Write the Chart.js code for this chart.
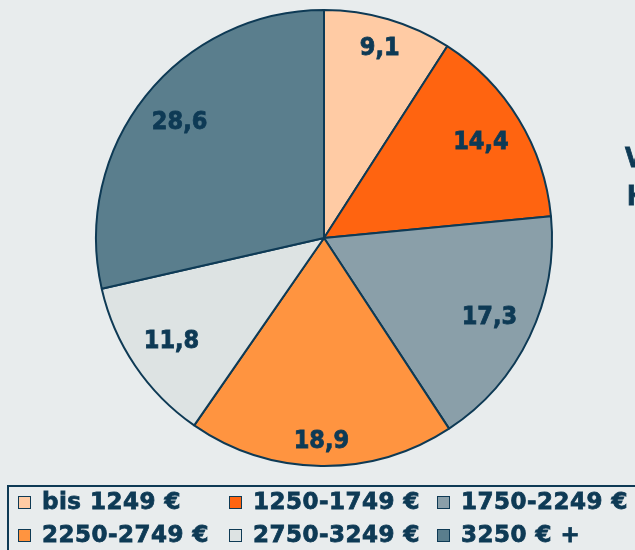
<!DOCTYPE html>
<html>
<head>
<meta charset="utf-8">
<style>
  html, body { margin: 0; padding: 0; background: #e8eced; }
  #wrap { width: 635px; height: 550px; }
</style>
<script src="https://cdn.jsdelivr.net/npm/chart.js"></script>
</head>
<body>
<div id="wrap"><canvas id="incomeChart" width="635" height="550"></canvas></div>
<script>
const incomeClasses = ['bis 1249 €', '1250-1749 €', '1750-2249 €', '2250-2749 €', '2750-3249 €', '3250 € +'];
const shares = [9.1, 14.4, 17.3, 18.9, 11.8, 28.6];
const sliceColors = ['#ffcba4', '#ff6410', '#8a9fa9', '#ff9440', '#dde3e3', '#5a7e8d'];
const titleLines = ['V', 'H'];

const ink = '#0e3a55';
const labelFont = "bold 25px 'DejaVu Sans Condensed', 'DejaVu Sans', sans-serif";
const legendFont = "bold 23px 'DejaVu Sans', sans-serif";

// heavy text: fill plus a thin stroke in the same colour
function heavyText(ctx, txt, x, y) {
  ctx.fillText(txt, x, y);
  ctx.strokeText(txt, x, y);
}

// value labels inside slices, pushed out until the text box nearly touches the rim
const sliceLabels = {
  id: 'sliceLabels',
  afterDatasetsDraw(chart) {
    const ctx = chart.ctx;
    const meta = chart.getDatasetMeta(0);
    ctx.save();
    ctx.font = labelFont;
    ctx.fillStyle = ink;
    ctx.strokeStyle = ink;
    ctx.lineWidth = 0.8;
    ctx.textAlign = 'center';
    ctx.textBaseline = 'middle';
    meta.data.forEach((arc, i) => {
      const p = arc.getProps(['x', 'y', 'startAngle', 'endAngle', 'outerRadius'], true);
      const mid = (p.startAngle + p.endAngle) / 2;
      const txt = shares[i].toFixed(1).replace('.', ',');
      const hw = ctx.measureText(txt).width / 2 + 2;
      const hh = 12;
      const ext = Math.abs(Math.cos(mid)) * hw + Math.abs(Math.sin(mid)) * hh;
      const d = p.outerRadius * 0.945 - ext;
      heavyText(ctx, txt, p.x + Math.cos(mid) * d, p.y + Math.sin(mid) * d);
    });
    ctx.restore();
  }
};

// boxed legend in a grid and the cut-off title at the right edge
const gridLegend = {
  id: 'gridLegend',
  afterDraw(chart) {
    const ctx = chart.ctx;
    ctx.save();
    ctx.strokeStyle = ink;
    ctx.lineWidth = 2;
    ctx.strokeRect(8, 486, 700, 100);
    const colX = [18, 229, 437];
    const rowY = [502, 535];
    ctx.font = legendFont;
    ctx.letterSpacing = '0.5px';
    ctx.textBaseline = 'middle';
    ctx.textAlign = 'left';
    incomeClasses.forEach((name, i) => {
      const x = colX[i % 3];
      const y = rowY[Math.floor(i / 3)];
      ctx.fillStyle = sliceColors[i];
      ctx.fillRect(x, y - 6, 13, 13);
      ctx.lineWidth = 1;
      ctx.strokeStyle = ink;
      ctx.strokeRect(x + 0.5, y - 5.5, 12, 12);
      ctx.fillStyle = ink;
      ctx.lineWidth = 0.8;
      heavyText(ctx, name, x + 24, y + 1);
    });
    ctx.letterSpacing = '0px';
    ctx.font = "bold 26px 'DejaVu Sans Condensed', 'DejaVu Sans', sans-serif";
    ctx.textBaseline = 'alphabetic';
    heavyText(ctx, titleLines[0], 625, 167);
    heavyText(ctx, titleLines[1], 627, 205);
    ctx.restore();
  }
};

new Chart(document.getElementById('incomeChart').getContext('2d'), {
  type: 'pie',
  data: {
    labels: incomeClasses,
    datasets: [{
      data: shares,
      backgroundColor: sliceColors,
      borderColor: ink,
      borderWidth: 2
    }]
  },
  options: {
    responsive: false,
    animation: false,
    layout: { padding: { left: 95, right: 82, top: 9, bottom: 83 } },
    plugins: {
      legend: { display: false },
      tooltip: { enabled: false },
      title: { display: false }
    }
  },
  plugins: [sliceLabels, gridLegend]
});
</script>
</body>
</html>
